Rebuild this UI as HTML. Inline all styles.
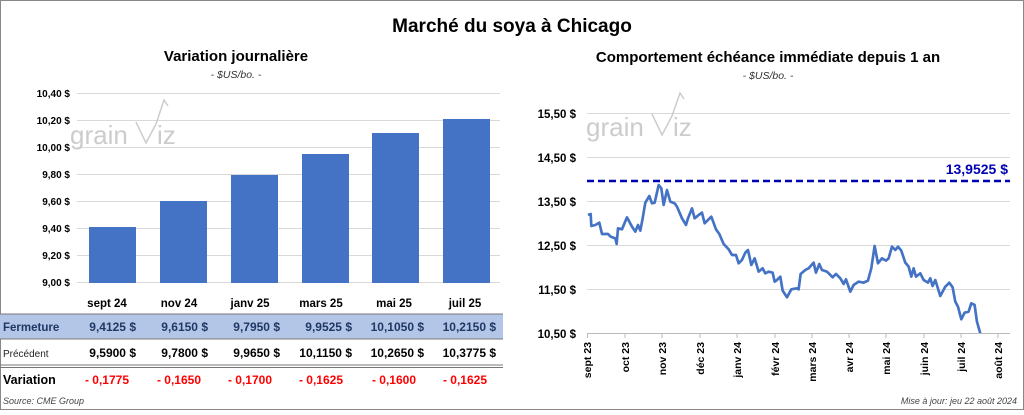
<!DOCTYPE html>
<html><head><meta charset="utf-8"><style>
body{margin:0;background:#fff;}
svg text{font-family:"Liberation Sans",Carlito,sans-serif;}
</style></head><body>
<svg width="1024" height="410" viewBox="0 0 1024 410" xmlns="http://www.w3.org/2000/svg">
<rect x="0.5" y="0.5" width="1023" height="409" fill="#fff" stroke="#888"/>
<text x="512" y="32" font-size="19" font-weight="bold" text-anchor="middle">Marché du soya à Chicago</text>
<text x="236" y="61" font-size="15" font-weight="bold" text-anchor="middle">Variation  journalière</text>
<text x="236" y="78" font-size="10.5" font-style="italic" text-anchor="middle" fill="#333">- $US/bo. -</text>
<text x="768" y="62" font-size="15" font-weight="bold" text-anchor="middle">Comportement  échéance immédiate depuis 1 an</text>
<text x="768" y="79" font-size="10.5" font-style="italic" text-anchor="middle" fill="#333">- $US/bo. -</text>
<!-- left grid -->
<g stroke="#d9d9d9" stroke-width="1">
<line x1="77" x2="500" y1="93.5" y2="93.5"/><line x1="77" x2="500" y1="120.5" y2="120.5"/><line x1="77" x2="500" y1="147.5" y2="147.5"/><line x1="77" x2="500" y1="174.5" y2="174.5"/><line x1="77" x2="500" y1="201.5" y2="201.5"/><line x1="77" x2="500" y1="228.5" y2="228.5"/><line x1="77" x2="500" y1="255.5" y2="255.5"/><line x1="77" x2="500" y1="282.5" y2="282.5"/>
</g>
<g font-size="10" font-weight="bold" text-anchor="end">
<text x="70" y="97">10,40 $</text><text x="70" y="124">10,20 $</text><text x="70" y="151">10,00 $</text><text x="70" y="178">9,80 $</text><text x="70" y="205">9,60 $</text><text x="70" y="232">9,40 $</text><text x="70" y="259">9,20 $</text><text x="70" y="286">9,00 $</text>
</g>
<text x="70" y="144" font-size="26" fill="#ccc">grain</text>
<polyline points="136,122 146,143 156,124 164,100 168,106" fill="none" stroke="#ccc" stroke-width="1.5"/>
<text x="157" y="144" font-size="26" fill="#ccc">iz</text>
<g fill="#4472c4">
<rect x="89" y="227" width="47" height="56"/><rect x="160" y="201" width="47" height="82"/><rect x="231" y="175" width="47" height="108"/><rect x="302" y="154" width="47" height="129"/><rect x="372" y="133" width="47" height="150"/><rect x="443" y="119" width="47" height="164"/>
</g>
<!-- table -->
<g font-size="11.5" font-weight="bold" text-anchor="middle">
<text x="107" y="307">sept 24</text><text x="179" y="307">nov 24</text><text x="250" y="307">janv 25</text><text x="321" y="307">mars 25</text><text x="394" y="307">mai 25</text><text x="465" y="307">juil 25</text>
</g>
<rect x="0" y="314" width="503" height="25" fill="#b4c6e7"/>
<line x1="0" x2="503" y1="314" y2="314" stroke="#777"/>
<line x1="0" x2="503" y1="339" y2="339" stroke="#777"/>
<line x1="0" x2="503" y1="365" y2="365" stroke="#777"/>
<line x1="0" x2="503" y1="367.5" y2="367.5" stroke="#777"/>
<text x="3" y="331" font-size="11.5" font-weight="bold" fill="#1f3864">Fermeture</text>
<g font-size="12" font-weight="bold" text-anchor="end" fill="#1f3864">
<text x="136" y="331">9,4125  $</text><text x="208" y="331">9,6150  $</text><text x="280" y="331">9,7950  $</text><text x="352" y="331">9,9525  $</text><text x="424" y="331">10,1050  $</text><text x="496" y="331">10,2150  $</text>
</g>
<text x="3" y="357" font-size="10" fill="#222">Précédent</text>
<g font-size="12" font-weight="bold" text-anchor="end">
<text x="136" y="357">9,5900  $</text><text x="208" y="357">9,7800  $</text><text x="280" y="357">9,9650  $</text><text x="352" y="357">10,1150  $</text><text x="424" y="357">10,2650  $</text><text x="496" y="357">10,3775  $</text>
</g>
<text x="3" y="384" font-size="12.5" font-weight="bold">Variation</text>
<g font-size="12" font-weight="bold" text-anchor="middle" fill="#ff0000">
<text x="107" y="384">- 0,1775</text><text x="179" y="384">- 0,1650</text><text x="250" y="384">- 0,1700</text><text x="321" y="384">- 0,1625</text><text x="394" y="384">- 0,1600</text><text x="465" y="384">- 0,1625</text>
</g>
<text x="3" y="404" font-size="9" font-style="italic" fill="#444">Source: CME Group</text>
<!-- right chart -->
<g stroke="#d9d9d9">
<line x1="587" x2="1010" y1="113.5" y2="113.5"/><line x1="587" x2="1010" y1="157.5" y2="157.5"/><line x1="587" x2="1010" y1="201.5" y2="201.5"/><line x1="587" x2="1010" y1="245.5" y2="245.5"/><line x1="587" x2="1010" y1="289.5" y2="289.5"/><line x1="587" x2="1010" y1="333.5" y2="333.5"/>
</g>
<g font-size="11.5" font-weight="bold" text-anchor="end">
<text x="576" y="118">15,50 $</text><text x="576" y="162">14,50 $</text><text x="576" y="206">13,50 $</text><text x="576" y="250">12,50 $</text><text x="576" y="294">11,50 $</text><text x="576" y="338">10,50 $</text>
</g>
<text x="586" y="136" font-size="26" fill="#ccc">grain</text>
<polyline points="652,114 662,135 672,116 680,93 684,99" fill="none" stroke="#ccc" stroke-width="1.5"/>
<text x="673" y="136" font-size="26" fill="#ccc">iz</text>
<line x1="587" x2="1010" y1="181" y2="181" stroke="#0000b3" stroke-width="2.5" stroke-dasharray="7,4"/>
<text x="1008" y="174" font-size="14" font-weight="bold" fill="#0000b3" text-anchor="end">13,9525  $</text>
<g transform="translate(512,90) scale(0.3333)">
<polyline fill="none" stroke="#4472c4" stroke-width="8" stroke-linejoin="round" points="228,375 236,372 238,408 250,405 262,398 270,432 288,432 296,440 310,445 314,462 318,415 330,418 345,382 360,410 370,425 378,405 385,422 392,385 400,338 412,318 420,340 428,338 440,285 448,295 455,345 465,300 475,335 488,340 495,350 510,385 522,405 528,385 540,355 548,385 560,375 570,368 578,400 598,380 612,418 622,432 635,462 650,478 660,495 672,495 680,520 690,510 700,488 708,480 718,525 728,505 740,545 752,535 760,550 770,545 782,548 788,575 795,570 805,560 812,602 825,622 838,598 855,595 860,598 866,552 880,540 890,535 905,518 912,548 922,522 930,540 945,545 955,555 962,562 972,552 985,565 995,582 1002,568 1015,605 1025,585 1040,575 1055,578 1068,572 1078,535 1088,468 1098,520 1110,505 1122,512 1130,505 1140,470 1150,480 1158,470 1168,482 1180,518 1190,530 1198,560 1205,535 1212,560 1225,550 1235,570 1248,578 1255,565 1262,588 1270,570 1285,618 1300,590 1312,578 1322,592 1330,635 1338,650 1348,688 1358,668 1370,665 1378,640 1388,645 1395,695 1405,730"/>
</g>
<g stroke="#bbb"><line x1="587" x2="1010" y1="333.5" y2="333.5"/>
<line x1="587.5" x2="587.5" y1="333" y2="338"/><line x1="625" x2="625" y1="333" y2="338"/><line x1="662" x2="662" y1="333" y2="338"/><line x1="700" x2="700" y1="333" y2="338"/><line x1="737" x2="737" y1="333" y2="338"/><line x1="775" x2="775" y1="333" y2="338"/><line x1="812" x2="812" y1="333" y2="338"/><line x1="849" x2="849" y1="333" y2="338"/><line x1="886" x2="886" y1="333" y2="338"/><line x1="924" x2="924" y1="333" y2="338"/><line x1="961" x2="961" y1="333" y2="338"/><line x1="998" x2="998" y1="333" y2="338"/></g>
<g font-size="10.5" font-weight="bold" text-anchor="end">
<text transform="translate(591,342) rotate(-90)">sept 23</text>
<text transform="translate(629,342) rotate(-90)">oct 23</text>
<text transform="translate(666,342) rotate(-90)">nov 23</text>
<text transform="translate(704,342) rotate(-90)">déc 23</text>
<text transform="translate(741,342) rotate(-90)">janv 24</text>
<text transform="translate(779,342) rotate(-90)">févr 24</text>
<text transform="translate(816,342) rotate(-90)">mars 24</text>
<text transform="translate(853,342) rotate(-90)">avr 24</text>
<text transform="translate(890,342) rotate(-90)">mai 24</text>
<text transform="translate(928,342) rotate(-90)">juin 24</text>
<text transform="translate(965,342) rotate(-90)">juil 24</text>
<text transform="translate(1002,342) rotate(-90)">août 24</text>
</g>
<text x="1017" y="404" font-size="9" font-style="italic" fill="#444" text-anchor="end">Mise à jour: jeu 22 août 2024</text>
</svg>
</body></html>
